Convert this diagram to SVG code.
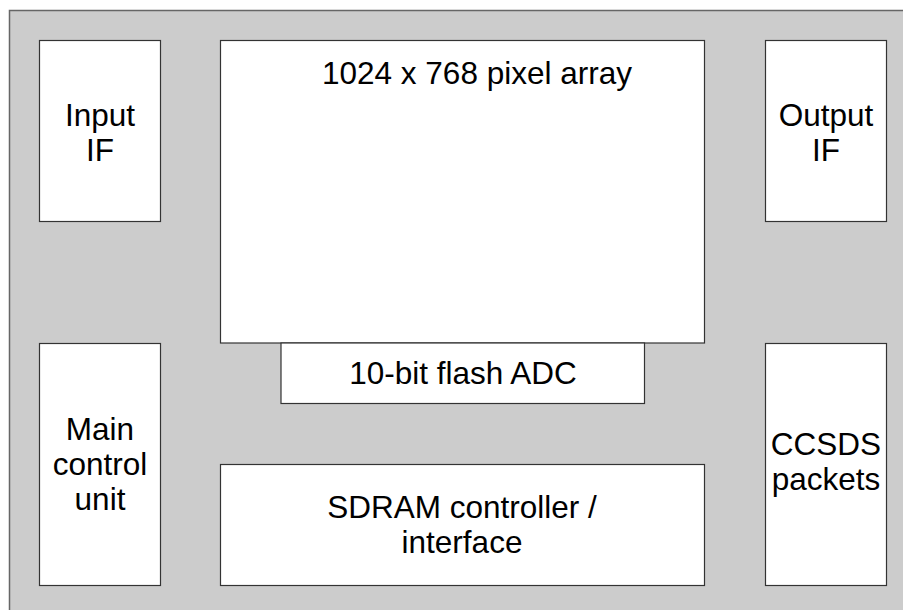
<svg xmlns="http://www.w3.org/2000/svg" width="903" height="610" viewBox="0 0 903 610">
<style>
.box{fill:#ffffff;stroke:#333333;stroke-width:1.2}
.t{font-family:"Liberation Sans",Arial,sans-serif;font-size:31.5px;fill:#000000;text-anchor:middle}
</style>
<rect x="0" y="0" width="903" height="610" fill="#ffffff"/>
<rect id="chip" x="9.5" y="10.5" width="900" height="610" fill="#cccccc" stroke="#666666" stroke-width="1.5"/>
<g id="input-if">
<rect class="box" x="39.5" y="40.5" width="121" height="181"/>
<text class="t" x="100" y="126">Input</text>
<text class="t" x="100" y="160.7">IF</text>
</g>
<g id="pixel-array">
<rect class="box" x="220.5" y="40.5" width="484" height="302.5"/>
<text class="t" x="477" y="83.5">1024 x 768 pixel array</text>
</g>
<g id="output-if">
<rect class="box" x="765.5" y="40.5" width="121" height="181"/>
<text class="t" x="826" y="126">Output</text>
<text class="t" x="826" y="160.7">IF</text>
</g>
<g id="adc">
<rect class="box" x="281" y="343" width="363.5" height="60.5"/>
<text class="t" x="463" y="384">10-bit flash ADC</text>
</g>
<g id="main-control">
<rect class="box" x="39.5" y="343.5" width="121" height="242"/>
<text class="t" x="100" y="440">Main</text>
<text class="t" x="100" y="475">control</text>
<text class="t" x="100" y="510">unit</text>
</g>
<g id="sdram">
<rect class="box" x="220.5" y="464.5" width="484" height="121"/>
<text class="t" x="462" y="518.3">SDRAM controller /</text>
<text class="t" x="462" y="553.3">interface</text>
</g>
<g id="ccsds">
<rect class="box" x="765.5" y="343.5" width="121" height="242"/>
<text class="t" x="826" y="455">CCSDS</text>
<text class="t" x="826" y="489.5">packets</text>
</g>
<g id="connectors"></g>
</svg>
